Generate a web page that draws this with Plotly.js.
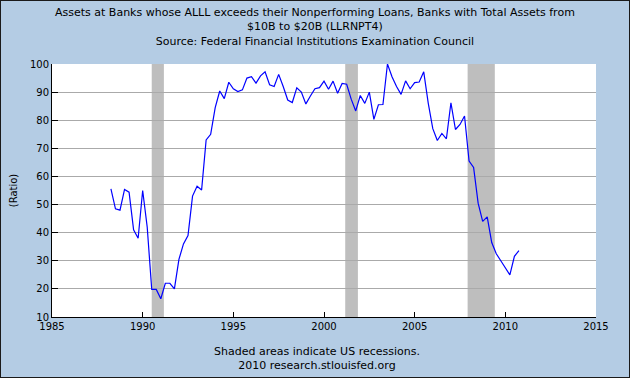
<!DOCTYPE html>
<html>
<head>
<meta charset="utf-8">
<script src="https://cdn.plot.ly/plotly-3.0.1.min.js"></script>
<style>
html,body{margin:0;padding:0;background:#B4CCE4;}
#chart{width:630px;height:378px;}
</style>
</head>
<body>
<div id="chart"></div>
<script>
// Quarterly observations, first quarter end 1988 Q1 (1988.25), last 2010 Q3
var startYear = 1988.25;
var ratio = [
  55.6, 48.5, 48.0, 55.4, 54.4, 41.0, 38.0, 55.0, 42.0, 19.8,
  19.8, 16.5, 22.0, 22.0, 20.0, 30.5, 36.0, 39.0, 53.0, 56.5,
  55.2, 73.0, 75.0, 84.5, 90.4, 87.7, 93.5, 91.2, 90.2, 90.8,
  95.0, 95.5, 93.2, 95.8, 97.2, 92.6, 92.0, 96.3, 92.0, 87.2,
  86.3, 91.5, 90.0, 85.8, 88.6, 91.2, 91.6, 93.9, 91.0, 93.9,
  89.6, 93.1, 92.8, 87.5, 83.3, 88.8, 86.0, 90.0, 80.3, 85.5,
  85.6, 100.0, 95.5, 92.0, 89.2, 94.0, 91.2, 93.4, 93.6, 97.2,
  86.0, 77.0, 72.8, 75.3, 73.4, 86.2, 76.7, 78.5, 81.5, 65.5,
  63.2, 50.5, 44.0, 45.6, 36.5, 32.5, 30.0, 27.5, 25.0, 31.6,
  33.6
];
var recessionStart = [1990.5, 2001.17, 2007.92];
var recessionEnd   = [1991.17, 2001.87, 2009.42];
var yTicks = [10, 20, 30, 40, 50, 60, 70, 80, 90, 100];
var xTicks = [1985, 1990, 1995, 2000, 2005, 2010, 2015];

var dates = ratio.map(function(_, i){ return startYear + i * 0.25; });

var shapes = recessionStart.map(function(s, i){
  return {type:'rect', xref:'x', yref:'paper', x0:s, x1:recessionEnd[i], y0:0, y1:1,
          fillcolor:'#BEBEBE', line:{width:0}, layer:'below'};
});
shapes.push({type:'rect', xref:'paper', yref:'paper', x0:-52/544, x1:(630-52)/544,
  y0:-61/253, y1:(253+64)/253, line:{color:'#1a1a1a', width:2}, fillcolor:'rgba(0,0,0,0)'});

var trace = {
  x: dates, y: ratio, type:'scatter', mode:'lines',
  line:{color:'#0000FF', width:1.2}, hoverinfo:'skip'
};

var font = {family:'DejaVu Sans, Verdana, sans-serif', size:10, color:'#000'};

var layout = {
  width:630, height:378,
  paper_bgcolor:'#B4CCE4', plot_bgcolor:'#FFFFFF',
  margin:{l:52, r:34, t:64, b:61},
  showlegend:false,
  font: font,
  xaxis:{range:[1985,2015], tickvals:xTicks, ticktext:xTicks.map(String),
    showgrid:false, zeroline:false, showline:true, linecolor:'#000', linewidth:1,
    ticks:'inside', ticklen:5, tickcolor:'#000', tickfont:font, fixedrange:true},
  yaxis:{range:[10,100], tickvals:yTicks, ticktext:yTicks.map(String),
    showgrid:true, gridcolor:'#AAAAAA', gridwidth:1, zeroline:false,
    showline:true, linecolor:'#000', linewidth:1,
    ticks:'inside', ticklen:6, tickcolor:'#000', tickfont:font, fixedrange:true,
    title:{text:'(Ratio)', font:font, standoff:10}},
  shapes: shapes,
  annotations:[
    {xref:'paper', yref:'paper', x:(315-52)/544, y:(317-27)/253, xanchor:'center', yanchor:'middle',
     showarrow:false, align:'center', font:{family:font.family, size:11, color:'#000'},
     text:'Assets at Banks whose ALLL exceeds their Nonperforming Loans, Banks with Total Assets from<br>$10B to $20B (LLRNPT4)<br>Source: Federal Financial Institutions Examination Council'},
    {xref:'paper', yref:'paper', x:(317-52)/544, y:(317-358)/253, xanchor:'center', yanchor:'middle',
     showarrow:false, align:'center', font:{family:font.family, size:11, color:'#000'},
     text:'Shaded areas indicate US recessions.<br>2010 research.stlouisfed.org'}
  ]
};

Plotly.newPlot('chart', [trace], layout, {staticPlot:true, displayModeBar:false});
</script>
</body>
</html>
